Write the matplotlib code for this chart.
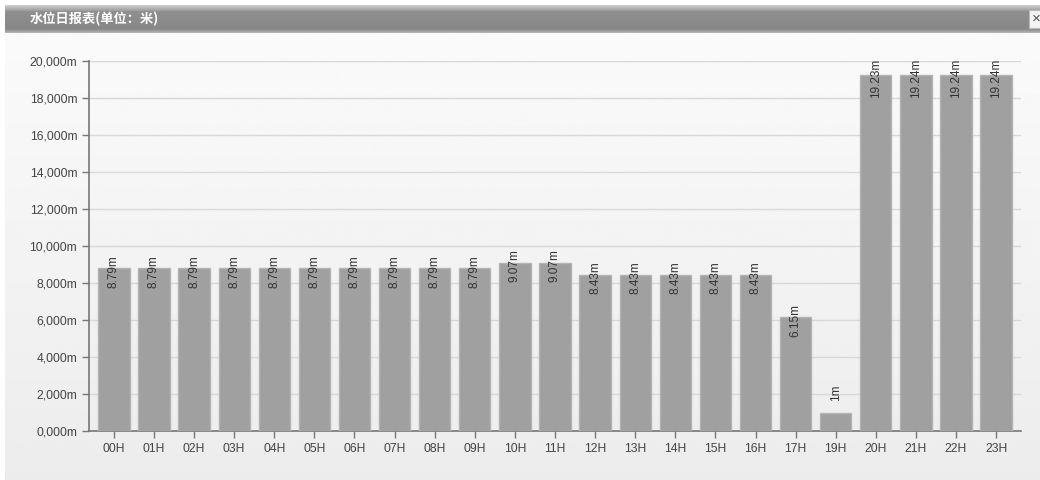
import numpy as np
import matplotlib
matplotlib.use("Agg")
import matplotlib.pyplot as plt

# hourly water level data (18H missing in the source)
hours = ['00H', '01H', '02H', '03H', '04H', '05H', '06H', '07H', '08H', '09H',
         '10H', '11H', '12H', '13H', '14H', '15H', '16H', '17H', '19H',
         '20H', '21H', '22H', '23H']
levels = [8790, 8790, 8790, 8790, 8790, 8790, 8790, 8790, 8790, 8790,
          9070, 9070, 8430, 8430, 8430, 8430, 8430, 6150, 1000,
          19230, 19240, 19240, 19240]
level_labels = ['8.79m'] * 10 + ['9.07m'] * 2 + ['8.43m'] * 5 + ['6.15m', '1m',
                '19.23m', '19.24m', '19.24m', '19.24m']
yticks = list(range(0, 20001, 2000))

plt.rcParams['font.family'] = ['Liberation Sans', 'DejaVu Sans']

fig = plt.figure(figsize=(10.4, 4.8), dpi=100)
fig.patch.set_facecolor('white')

W, H = 1040, 480

# panel body with a soft vertical gradient
body = fig.add_axes([5 / W, 0, 1 - 5 / W, 1 - 33 / H], zorder=0)
grad = np.linspace(0.98, 0.925, 256).reshape(-1, 1)
body.imshow(grad, aspect='auto', cmap='gray', vmin=0, vmax=1, extent=[0, 1, 0, 1])
body.set_axis_off()

# title bar gradient
head = fig.add_axes([5 / W, 1 - 33 / H, 1 - 5 / W, 28 / H], zorder=1)
hg = np.concatenate([np.linspace(0.80, 0.62, 6), np.linspace(0.56, 0.53, 18),
                     np.linspace(0.55, 0.70, 4)])
head.imshow(hg.reshape(-1, 1), aspect='auto', cmap='gray', vmin=0, vmax=1,
            extent=[0, 1, 0, 1])
head.set_axis_off()

fig.text(30 / W, 1 - 19 / H, '水位日报表(单位：米)', color='white', fontsize=9.5,
         fontweight='bold', va='center', ha='left',
         family=['Noto Sans CJK SC', 'DejaVu Sans'], zorder=5)
fig.text(1036 / W, 1 - 19 / H, '×', color='#555555', fontsize=11, va='center',
         ha='center', zorder=5,
         bbox=dict(boxstyle='square,pad=0.15', fc='#f4f4f4', ec='#bbbbbb', lw=0.8))

ax = fig.add_axes([89 / W, 1 - 431 / H, (1021 - 89) / W, (431 - 61) / H], zorder=2)
ax.patch.set_alpha(0)

x = np.arange(len(hours))
ax.bar(x, levels, width=0.78, color='#a0a0a0', edgecolor='#b4b4b4', linewidth=1,
       zorder=3)

for xi, v, lab in zip(x, levels, level_labels):
    if v < 2000:
        ax.annotate(lab, (xi, v), xytext=(0, 8), textcoords='offset points',
                    rotation=90, ha='center', va='bottom', fontsize=8.5,
                    color='#333333', zorder=4)
    else:
        ax.annotate(lab, (xi, v), xytext=(0, -2), textcoords='offset points',
                    rotation=90, ha='center', va='center', fontsize=8.5,
                    color='#333333', zorder=4)

ax.set_xlim(-0.62, len(hours) - 0.38)
ax.set_ylim(0, 20000)
ax.set_xticks(x)
ax.set_xticklabels(hours)
ax.set_yticks(yticks)
ax.set_yticklabels([f"{v // 1000},{v % 1000:03d}m" for v in yticks])
ax.yaxis.grid(True, color='#d8d8d8', linewidth=1, zorder=1)
ax.set_axisbelow(True)

for s in ['top', 'right']:
    ax.spines[s].set_visible(False)
for s in ['left', 'bottom']:
    ax.spines[s].set_color('#777777')
    ax.spines[s].set_linewidth(1.2)

ax.tick_params(axis='both', colors='#777777', labelcolor='#444444', labelsize=8.7,
               length=5, width=1)
ax.tick_params(axis='x', pad=4)

fig.savefig('out.png', dpi=100)
